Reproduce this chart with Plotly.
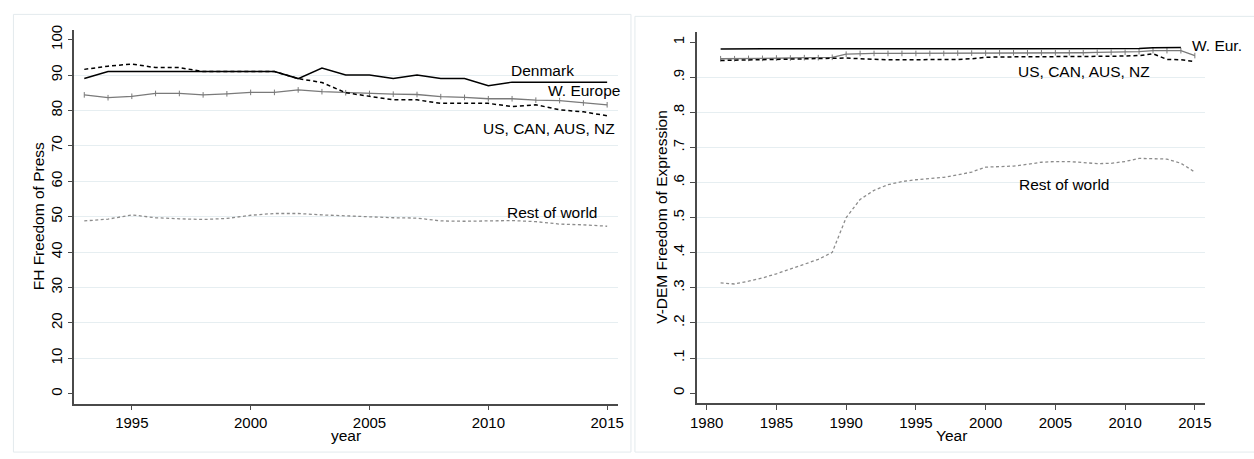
import plotly.graph_objects as go

# ---------------- data ----------------
years_fh = list(range(1993, 2016))
denmark_fh = [89, 91, 91, 91, 91, 91, 91, 91, 91, 89, 92, 90, 90, 89, 90, 89, 89, 87, 88, 88, 88, 88, 88]
weur_fh = [84.4, 83.6, 84.0, 84.8, 84.8, 84.4, 84.7, 85.1, 85.1, 85.8, 85.3, 85.0, 84.8, 84.6, 84.5,
           83.9, 83.7, 83.3, 83.3, 82.9, 82.8, 82.1, 81.6]
us_fh = [91.6, 92.5, 93.1, 92.1, 92.1, 91.0, 91.0, 91.0, 91.0, 89.0, 87.9, 85.0, 83.9, 83.0, 83.0,
         82.0, 82.0, 82.0, 81.1, 81.6, 80.2, 79.6, 78.5]
rest_fh = [48.8, 49.3, 50.5, 49.7, 49.4, 49.2, 49.5, 50.4, 50.9, 50.9, 50.5, 50.2, 49.9, 49.7, 49.6,
           48.8, 48.7, 48.7, 48.9, 48.6, 47.9, 47.7, 47.3]

years_vd = list(range(1981, 2016))
denmark_vd = [0.981] * 30 + [0.982, 0.984, 0.985, 0.985, None]
weur_vd = [0.953, 0.953, 0.954, 0.954, 0.955, 0.955, 0.956, 0.956, 0.957, 0.966, 0.968, 0.968, 0.968,
           0.968, 0.968, 0.968, 0.968, 0.969, 0.969, 0.969, 0.970, 0.970, 0.970, 0.970, 0.970, 0.970,
           0.970, 0.971, 0.971, 0.971, 0.973, 0.976, 0.976, 0.976, 0.962]
us_vd = [0.948, 0.949, 0.950, 0.951, 0.952, 0.953, 0.954, 0.955, 0.956, 0.955, 0.953, 0.951, 0.950,
         0.950, 0.950, 0.950, 0.951, 0.951, 0.953, 0.957, 0.958, 0.958, 0.958, 0.959, 0.959, 0.959,
         0.960, 0.960, 0.960, 0.961, 0.962, 0.967, 0.951, 0.950, 0.945]
rest_vd = [0.314, 0.311, 0.319, 0.328, 0.340, 0.354, 0.367, 0.381, 0.401, 0.500, 0.552, 0.578, 0.594,
           0.603, 0.608, 0.612, 0.615, 0.622, 0.630, 0.644, 0.646, 0.647, 0.652, 0.658, 0.660, 0.660,
           0.657, 0.654, 0.655, 0.660, 0.669, 0.669, 0.667, 0.655, 0.630]

fh_xticks = [1995, 2000, 2005, 2010, 2015]
fh_yticks = list(range(0, 101, 10))
vd_xticks = [1980, 1985, 1990, 1995, 2000, 2005, 2010, 2015]
vd_yticks = [i / 10 for i in range(11)]
vd_ytext = ["0", ".1", ".2", ".3", ".4", ".5", ".6", ".7", ".8", ".9", "1"]

# ---------------- style ----------------
W, H = 1254, 459
FONT = "Liberation Sans, Arial, Helvetica, sans-serif"
FS = 15.5
TICKFS = 15
AX = "#4a4a4a"
GRID = "#e6eef1"
FRAME = "#e3eaed"
GRAY_SOLID = "#7a7a7a"
GRAY_DASH = "#8c8c8c"


def px(x):
    return x / W


def py(y):
    return 1 - y / H


fig = go.Figure()


def add_series(xs, ys, xa, ya, kind):
    if kind == "dk":
        fig.add_trace(go.Scatter(x=xs, y=ys, xaxis=xa, yaxis=ya, mode="lines",
                                 line=dict(color="black", width=1.5)))
    elif kind == "we":
        fig.add_trace(go.Scatter(x=xs, y=ys, xaxis=xa, yaxis=ya, mode="lines+markers",
                                 line=dict(color=GRAY_SOLID, width=1.3),
                                 marker=dict(symbol="line-ns", size=4,
                                             line=dict(color=GRAY_SOLID, width=1))))
    elif kind == "us":
        fig.add_trace(go.Scatter(x=xs, y=ys, xaxis=xa, yaxis=ya, mode="lines",
                                 line=dict(color="black", width=1.5, dash="4px,3px")))
    else:
        fig.add_trace(go.Scatter(x=xs, y=ys, xaxis=xa, yaxis=ya, mode="lines",
                                 line=dict(color=GRAY_DASH, width=1.3, dash="3px,2.5px")))


add_series(years_fh, weur_fh, "x", "y", "we")
add_series(years_fh, rest_fh, "x", "y", "rw")
add_series(years_fh, us_fh, "x", "y", "us")
add_series(years_fh, denmark_fh, "x", "y", "dk")

add_series(years_vd, weur_vd, "x2", "y2", "we")
add_series(years_vd, rest_vd, "x2", "y2", "rw")
add_series(years_vd, us_vd, "x2", "y2", "us")
add_series(years_vd, denmark_vd, "x2", "y2", "dk")

fh_xrange = [1992.58, 2015.44]
fh_yrange = [-2.8, 102.8]
vd_xrange = [1979.29, 2015.76]
vd_yrange = [-0.028, 1.030]

xcommon = dict(showgrid=False, zeroline=False, showline=True, linecolor=AX, linewidth=1.5,
               ticks="outside", ticklen=5, tickwidth=1.2, tickcolor=AX,
               tickfont=dict(family=FONT, size=TICKFS, color="black"))
ycommon = dict(showgrid=False, zeroline=False, showline=True, linecolor=AX, linewidth=1.5,
               ticks="outside", ticklen=5, tickwidth=1.2, tickcolor=AX, tickangle=-90,
               tickfont=dict(family=FONT, size=TICKFS, color="black"))


def grid_minor(vals):
    # interior grid lines only (no grid at the axis extremes)
    return dict(tickmode="array", tickvals=vals, ticks="", showgrid=True, gridcolor=GRID, gridwidth=1)


fig.update_layout(
    width=W, height=H, autosize=False,
    margin=dict(l=0, r=0, t=0, b=0),
    paper_bgcolor="white", plot_bgcolor="white",
    showlegend=False,
    font=dict(family=FONT, size=FS, color="black"),
    xaxis=dict(domain=[px(68), px(617)], range=fh_xrange, tickvals=fh_xticks, anchor="y", **xcommon),
    yaxis=dict(domain=[py(403), py(25)], range=fh_yrange, tickvals=fh_yticks, anchor="x",
               minor=grid_minor(fh_yticks[1:-1]), **ycommon),
    xaxis2=dict(domain=[px(697), px(1211)], range=vd_xrange, tickvals=vd_xticks, anchor="y2", **xcommon),
    yaxis2=dict(domain=[py(402.3), py(27)], range=vd_yrange, tickvals=vd_yticks, ticktext=vd_ytext,
                anchor="x2", minor=grid_minor(vd_yticks[1:-1]), **ycommon),
)

# panel frames
fig.add_shape(type="rect", xref="paper", yref="paper", x0=px(6.5), x1=px(630.5), y0=py(452), y1=py(9.5),
              line=dict(color=FRAME, width=1), layer="below")
fig.add_shape(type="rect", xref="paper", yref="paper", x0=px(634.5), x1=px(1262), y0=py(452), y1=py(11.5),
              line=dict(color=FRAME, width=1), layer="below")

# series labels
labels = [
    ("x", "y", 2010.9, 91.3, "Denmark"),
    ("x", "y", 2012.46, 85.6, "W. Europe"),
    ("x", "y", 2009.75, 74.8, "US, CAN, AUS, NZ"),
    ("x", "y", 2010.75, 51.3, "Rest of world"),
    ("x2", "y2", 2003.33, 1.033, "Denmark"),
    ("x2", "y2", 2014.73, 0.992, "W. Eur."),
    ("x2", "y2", 2002.25, 0.917, "US, CAN, AUS, NZ"),
    ("x2", "y2", 2002.32, 0.595, "Rest of world"),
]
for xr, yr, xv, yv, t in labels:
    fig.add_annotation(x=xv, y=yv, xref=xr, yref=yr, text=t, showarrow=False,
                       xanchor="left", yanchor="middle", borderpad=0,
                       font=dict(family=FONT, size=FS, color="black"))

# axis titles
fig.add_annotation(x=px(32), y=py(214), xref="paper", yref="paper", text="FH Freedom of Press",
                   textangle=-90, showarrow=False, xanchor="center", yanchor="middle",
                   font=dict(family=FONT, size=FS, color="black"))
fig.add_annotation(x=px(342.5), y=py(435), xref="paper", yref="paper", text="year",
                   showarrow=False, xanchor="center", yanchor="middle",
                   font=dict(family=FONT, size=FS, color="black"))
fig.add_annotation(x=px(661.5), y=py(214.5), xref="paper", yref="paper", text="V-DEM Freedom of Expression",
                   textangle=-90, showarrow=False, xanchor="center", yanchor="middle",
                   font=dict(family=FONT, size=FS, color="black"))
fig.add_annotation(x=px(954), y=py(435), xref="paper", yref="paper", text="Year",
                   showarrow=False, xanchor="center", yanchor="middle",
                   font=dict(family=FONT, size=FS, color="black"))

fig.write_html("out.html", config={"displayModeBar": False},
               post_script="document.body.style.margin='0';document.body.style.overflow='hidden';")
